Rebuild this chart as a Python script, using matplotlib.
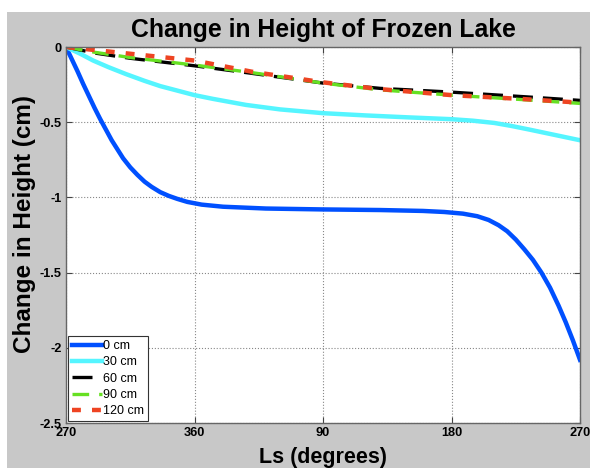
import matplotlib
matplotlib.use('Agg')
import matplotlib.pyplot as plt
from matplotlib.patches import Rectangle

plt.rcParams['font.family'] = ['Liberation Sans', 'DejaVu Sans']

# Ls offset (degrees past 270)
ls_0cm = [0, 4, 8, 12, 16, 20, 24, 28, 32, 36, 40, 45, 50, 55, 60, 66, 72, 78, 85, 95, 110, 140,
          180, 220, 250, 265, 278, 288, 296, 303, 309, 315, 321, 327, 333, 339, 345, 350, 355, 360]
h_0cm = [0, -0.08, -0.16, -0.245, -0.325, -0.405, -0.48, -0.55, -0.62, -0.68, -0.74, -0.80, -0.85,
         -0.895, -0.93, -0.965, -0.99, -1.01, -1.03, -1.048, -1.062, -1.074,
         -1.08, -1.084, -1.09, -1.097, -1.108, -1.125, -1.15, -1.185, -1.225, -1.28, -1.345,
         -1.415, -1.50, -1.60, -1.72, -1.83, -1.95, -2.08]

ls_30cm = [0, 10, 19, 30, 42, 55, 66, 78, 90, 103, 126, 150, 180, 210, 240, 270, 285, 300, 312,
           325, 335, 345, 360]
h_30cm = [0, -0.045, -0.09, -0.135, -0.18, -0.225, -0.26, -0.29, -0.32, -0.345, -0.385, -0.415,
          -0.44, -0.455, -0.468, -0.48, -0.49, -0.505, -0.525, -0.55, -0.57, -0.59, -0.62]

ls_deep = [0, 20, 45, 90, 130, 180, 220, 270, 320, 360]
h_60cm = [0, -0.04, -0.075, -0.125, -0.175, -0.24, -0.275, -0.30, -0.33, -0.355]
h_90cm = [0, -0.035, -0.07, -0.12, -0.17, -0.24, -0.285, -0.32, -0.35, -0.375]
h_120cm = [0, -0.02, -0.045, -0.09, -0.164, -0.235, -0.28, -0.32, -0.346, -0.37]

xtick_pos = [0, 90, 180, 270, 360]
xtick_labels = ['270', '360', '90', '180', '270']
ytick_pos = [0, -0.5, -1, -1.5, -2, -2.5]
ytick_labels = ['0', '-0.5', '-1', '-1.5', '-2', '-2.5']

fig = plt.figure(figsize=(5.9, 4.68), dpi=100, facecolor='white')
# matlab-style grey figure background, with the white strip top/left
fig.patches.append(Rectangle((7/590, 0), 1, 1 - 12/468, transform=fig.transFigure,
                             facecolor='#c8c8c8', edgecolor='none', zorder=-10))

ax = fig.add_axes([66/590, 45/468, 514/590, 376/468])
ax.set_facecolor('white')

ax.plot(ls_0cm, h_0cm, color='#0050ff', lw=3.2, label='0 cm')
ax.plot(ls_30cm, h_30cm, color='#55f5ff', lw=3.2, label='30 cm')
ax.plot(ls_deep, h_60cm, color='black', lw=2.4, dashes=(6, 3), label='60 cm')
ax.plot(ls_deep, h_90cm, color='#66e022', lw=2.4, dashes=(5, 3), label='90 cm')
ax.plot(ls_deep, h_120cm, color='#ee4422', lw=3.2, dashes=(2, 2.5), label='120 cm')

ax.set_xlim(0, 360)
ax.set_ylim(-2.5, 0)
ax.set_xticks(xtick_pos)
ax.set_xticklabels(xtick_labels)
ax.set_yticks(ytick_pos)
ax.set_yticklabels(ytick_labels)
ax.tick_params(direction='in', top=True, right=True, length=4, width=0.8,
               color='#444444', labelsize=9.2, pad=3)
for lab in ax.get_xticklabels() + ax.get_yticklabels():
    lab.set_fontweight('bold')
ax.grid(True, linestyle=':', color='#888888', linewidth=0.8)
for sp in ax.spines.values():
    sp.set_color('#666666')
    sp.set_linewidth(1.0)

ax.set_title('Change in Height of Frozen Lake', fontsize=17.8, fontweight='bold', pad=7)
ax.set_xlabel('Ls (degrees)', fontsize=15.5, fontweight='bold', labelpad=6)
ax.set_ylabel('Change in Height (cm)', fontsize=17.5, fontweight='bold')
ax.yaxis.set_label_coords(-0.058, 0.53)

leg = ax.legend(loc='lower left', fontsize=9, handlelength=2.4, handletextpad=0.1,
                borderpad=0.3, labelspacing=0.35, borderaxespad=0.15,
                fancybox=False, framealpha=1)
leg.get_frame().set_edgecolor('#333333')
leg.get_frame().set_linewidth(0.8)

fig.savefig('out.png', dpi=100, facecolor=fig.get_facecolor())
